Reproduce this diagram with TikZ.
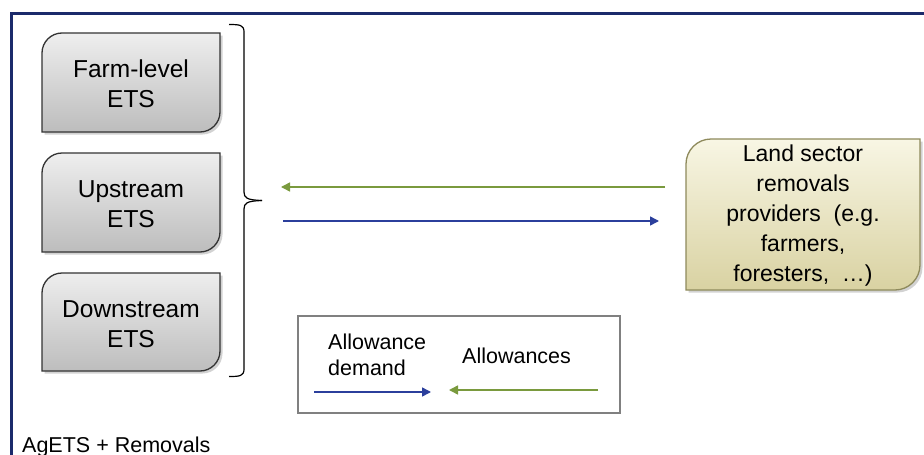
\documentclass[tikz,border=0pt]{standalone}
\usepackage{fontspec}
\setmainfont{Liberation Sans}
\usetikzlibrary{arrows.meta,shadows}
\definecolor{framec}{HTML}{1B2A6B}
\definecolor{greenc}{HTML}{7A9A3E}
\definecolor{bluec}{HTML}{2B3F9C}
\definecolor{landtop}{HTML}{F8F6E4}
\definecolor{landbot}{HTML}{D9D2A2}
\definecolor{landedge}{HTML}{8E8A5C}
\definecolor{graytop}{HTML}{EEEEEE}
\definecolor{graybot}{HTML}{BDBDBD}
\newcommand\tlbrshape[6]{% style, x1, y1, x2, y2, r  (y downwards)
  \draw[#1] ({#2},{#3+#6}) .. controls ({#2},{#3+0.45*#6}) and ({#2+0.45*#6},{#3}) .. ({#2+#6},{#3})
    -- ({#4},{#3}) -- ({#4},{#5-#6})
    .. controls ({#4},{#5-0.45*#6}) and ({#4-0.45*#6},{#5}) .. ({#4-#6},{#5})
    -- ({#2},{#5}) -- cycle;}
\begin{document}
\begin{tikzpicture}[x=1pt,y=-1pt,
  graybox/.style={draw=black!80, line width=1.3pt, top color=graytop, bottom color=graybot,
     drop shadow={shadow xshift=2.5pt, shadow yshift=-2.5pt, opacity=0.35}},
  landbox/.style={draw=landedge, line width=1.3pt, top color=landtop, bottom color=landbot,
     drop shadow={shadow xshift=2.5pt, shadow yshift=-2.5pt, opacity=0.35}},
  boxtext/.style={align=center, font=\fontsize{24.5}{30}\selectfont},
  landtext/.style={align=center, font=\fontsize{23}{30}\selectfont},
  smalltext/.style={font=\fontsize{21.5}{26}\selectfont, inner sep=0pt},
  greenarrow/.style={draw=greenc, line width=1.5pt, -{Triangle[length=9pt,width=9pt]}},
  bluearrow/.style={draw=bluec, line width=1.5pt, -{Triangle[length=9pt,width=9pt]}},
]
\useasboundingbox (0,0) rectangle (924,455);
\fill[white] (0,0) rectangle (924,455);
% frame
\draw[framec, line width=3pt] (930,13) -- (11,13) -- (11,462);
% gray boxes
\tlbrshape{graybox}{42}{33}{220}{132}{20}
\tlbrshape{graybox}{42}{153}{220}{252}{20}
\tlbrshape{graybox}{42}{273}{220}{371}{20}
\node[boxtext] (farm) at (131,84) {Farm-level\\ETS};
\node[boxtext] (up) at (131,204) {Upstream\\ETS};
\node[boxtext] (down) at (131,324) {Downstream\\ETS};
% brace
\draw[black, line width=1.2pt] (229,24.5) .. controls (240,24.5) and (244,25) .. (244,32)
  -- (244,192) .. controls (244,198) and (247,200) .. (262,200.5);
\draw[black, line width=1.2pt] (229,376.5) .. controls (240,376.5) and (244,376) .. (244,369)
  -- (244,209) .. controls (244,203) and (247,201) .. (262,200.5);
\coordinate (bracetip) at (262,200.5);
% land box
\tlbrshape{landbox}{686}{139}{920}{290}{25}
\node[landtext] (land) at (803,216) {Land sector\\removals\\providers\ \ (e.g.\\farmers,\\foresters,\ \ \dots)};
% main arrows
\coordinate (gs) at (665,187);
\coordinate (ge) at (281,187);
\coordinate (bs) at (283,221);
\coordinate (be) at (659,221);
\draw[greenarrow] (gs) -- (ge);
\draw[bluearrow] (bs) -- (be);
% legend
\draw[black!50, line width=1.3pt] (298,316) rectangle (620,413);
\node[smalltext, anchor=base west] (ad) at (328,349) {Allowance};
\node[smalltext, anchor=base west] (ad2) at (328,375) {demand};
\node[smalltext, anchor=base west] (al) at (462,363) {Allowances};
\coordinate (lbs) at (314,392);
\coordinate (lbe) at (431,392);
\coordinate (lgs) at (598,390);
\coordinate (lge) at (449,390);
\draw[bluearrow] (lbs) -- (lbe);
\draw[greenarrow] (lgs) -- (lge);
% caption
\node[smalltext, anchor=base west] (cap) at (22,452) {AgETS + Removals};
\end{tikzpicture}
\end{document}
